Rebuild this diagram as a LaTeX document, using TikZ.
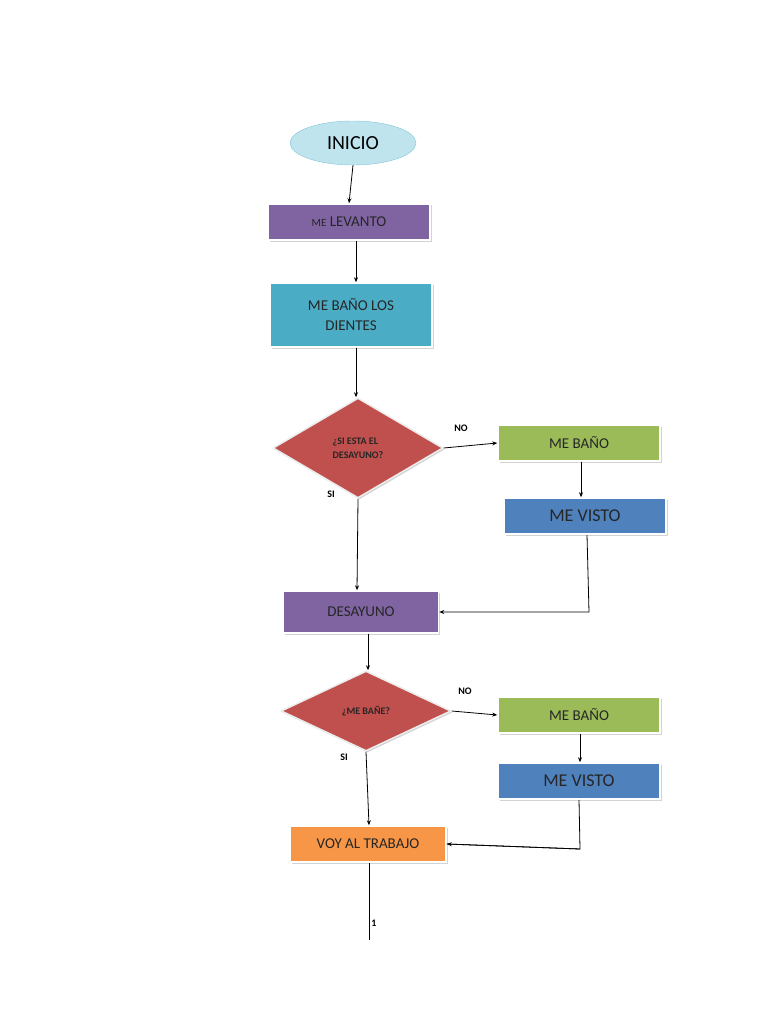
\documentclass[tikz,border=0pt]{standalone}
\usepackage{fontspec}
\setmainfont{Carlito}
\usetikzlibrary{shapes.geometric,arrows.meta,shadows}
\definecolor{cpurple}{HTML}{8064A2}
\definecolor{cteal}{HTML}{4BACC6}
\definecolor{cred}{HTML}{C0504D}
\definecolor{cgreen}{HTML}{9BBB59}
\definecolor{cblue}{HTML}{4F81BD}
\definecolor{corange}{HTML}{F79646}
\definecolor{ccyan}{HTML}{BFE4EE}
\begin{document}
\begin{tikzpicture}[x=1pt,y=-1pt,
 box/.style={rectangle,draw=white,line width=1.5pt,minimum width=162pt,minimum height=36pt,drop shadow={opacity=0.35,shadow xshift=1.5pt,shadow yshift=-1.5pt},font=\fontsize{15}{18}\selectfont,text=black!85},
 dia/.style={diamond,aspect=1.7,draw=white!85!gray,line width=1.5pt,fill=cred,minimum width=170pt,minimum height=100pt,inner sep=0pt,drop shadow={opacity=0.35,shadow xshift=1.5pt,shadow yshift=-1.5pt},font=\fontsize{10}{12}\selectfont\bfseries,align=left,text=black!85},
 arr/.style={-{Stealth[length=5pt,width=4pt]},line width=0.8pt},
 lab/.style={font=\fontsize{10}{12}\selectfont\bfseries}]
\useasboundingbox (0,0) rectangle (768,1024);
\node[ellipse,draw=cteal!70,fill=ccyan,minimum width=126pt,minimum height=44pt,font=\fontsize{20}{24}\selectfont] (ini) at (353,143) {INICIO};
\node[box,fill=cpurple] (lev) at (349,222) {{\fontsize{11}{13}\selectfont ME} LEVANTO};
\node[box,fill=cteal,minimum height=64pt,align=center] (die) at (351,315) {ME BAÑO LOS\\[2pt] DIENTES};
\node[dia] (d1) at (358,448) {¿SI ESTA EL\\[2pt]DESAYUNO?};
\node[box,fill=cgreen] (b1) at (579,443) {ME BAÑO};
\node[box,fill=cblue,font=\fontsize{18}{21}\selectfont] (v1) at (585,516) {ME VISTO};
\node[box,fill=cpurple,minimum width=155pt,minimum height=42pt] (des) at (361,612) {DESAYUNO};
\node[dia,minimum height=80pt] (d2) at (366,711) {¿ME BAÑE?};
\node[box,fill=cgreen] (b2) at (579,715) {ME BAÑO};
\node[box,fill=cblue,font=\fontsize{18}{21}\selectfont] (v2) at (579,781) {ME VISTO};
\node[box,fill=corange,minimum width=156pt] (voy) at (368,844) {VOY AL TRABAJO};
\coordinate (end) at (369,940);
\draw[arr] (ini.south) -- (lev.north);
\draw[arr] (lev.south -| 356,0) -- (die.north -| 356,0);
\draw[arr] (die.south -| 356,0) -- (d1.north -| 356,0);
\draw[arr] (d1.east) -- (b1.west);
\node[lab] at (461,428) {NO};
\draw[arr] (b1.south -| 581,0) -- (v1.north -| 581,0);
\draw[arr] (d1.south) -- (des.north -| 357,0);
\node[lab] at (331,494) {SI};
\draw[arr] (587,535) -- (589,612) -- (des.east);
\draw[arr] (des.south -| 368,0) -- (d2.north -| 368,0);
\draw[arr] (d2.east) -- (b2.west);
\node[lab] at (465,691) {NO};
\draw[arr] (b2.south -| 580,0) -- (v2.north -| 580,0);
\draw[arr] (d2.south) -- (voy.north -| 369,0);
\node[lab] at (344,757) {SI};
\draw[line width=0.8pt] (v2.south) -- (580,849) -- (voy.east);
\draw[arr] (580,849) -- (voy.east);
\draw[line width=0.8pt] (voy.south -| 369,0) -- (end);
\node[lab] at (374,923) {1};
\end{tikzpicture}
\end{document}
